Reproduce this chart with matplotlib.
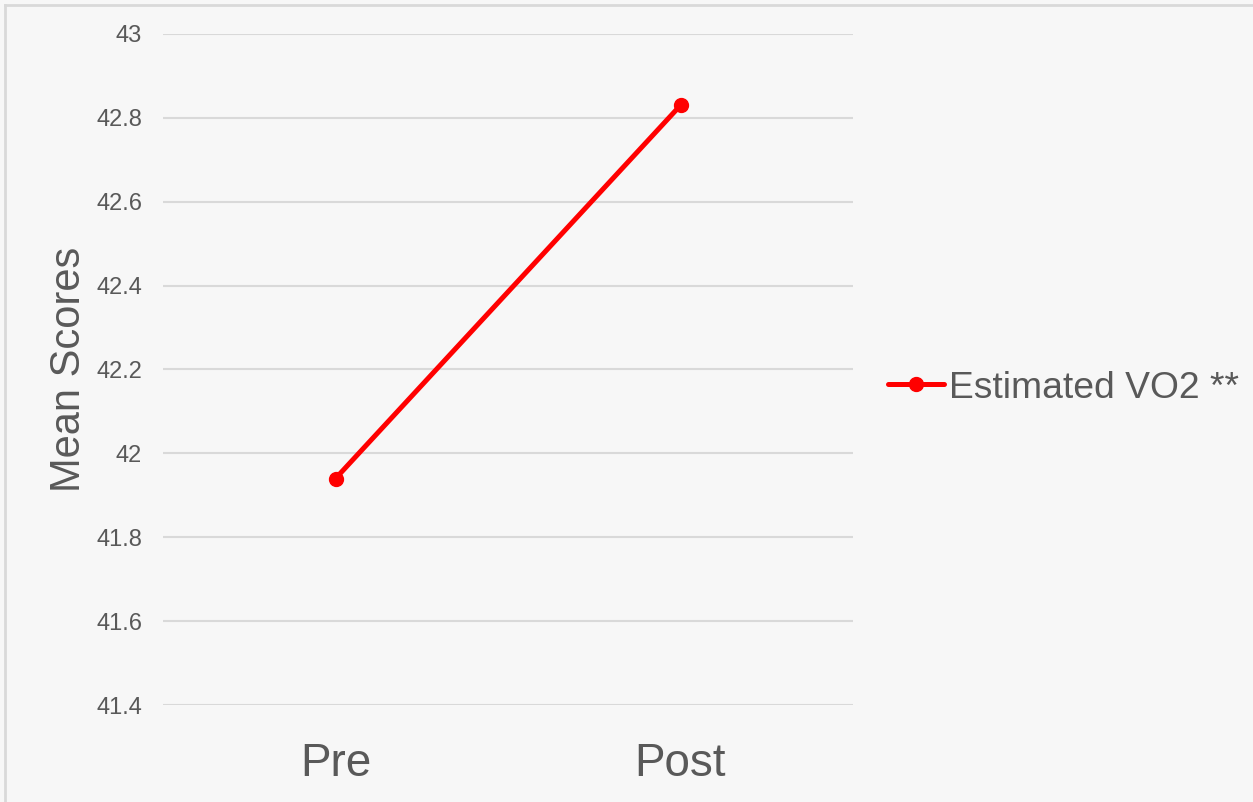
import matplotlib
matplotlib.use("Agg")
import matplotlib.pyplot as plt
from matplotlib.lines import Line2D

plt.rcParams['font.family'] = ['Liberation Sans', 'DejaVu Sans']

# data
categories = ['Pre', 'Post']
vo2_means = [41.94, 42.83]
series_label = 'Estimated VO2 **'
y_ticks = [41.4, 41.6, 41.8, 42.0, 42.2, 42.4, 42.6, 42.8, 43.0]
y_tick_labels = ['41.4', '41.6', '41.8', '42', '42.2', '42.4', '42.6', '42.8', '43']

bg = '#f7f7f7'
txt = '#595959'
grid_col = '#d9d9d9'

fig = plt.figure(figsize=(12.53, 8.02), dpi=100, facecolor=bg)
ax = fig.add_axes([163 / 1253, 1 - 705 / 802, 690 / 1253, 671 / 802])
ax.set_facecolor(bg)

x = list(range(len(categories)))
ax.plot(x, vo2_means, color='#ff0000', lw=3.6, marker='o', ms=10,
        solid_capstyle='round', label=series_label, zorder=3)

ax.set_xlim(-0.5, len(categories) - 0.5)
ax.set_ylim(y_ticks[0], y_ticks[-1])
ax.set_yticks(y_ticks)
ax.set_yticklabels(y_tick_labels)
ax.set_xticks(x)
ax.set_xticklabels(categories)

ax.grid(axis='y', color=grid_col, lw=1.5)
ax.set_axisbelow(True)
for s in ax.spines.values():
    s.set_visible(False)

ax.tick_params(axis='y', length=0, pad=15, labelsize=17, labelcolor=txt)
ax.tick_params(axis='x', length=0, pad=27, labelsize=33, labelcolor=txt)
ax.set_ylabel('Mean Scores', fontsize=30, color=txt, labelpad=5)

fig.legend(loc='center left', bbox_to_anchor=(888 / 1253, 1 - 388 / 802),
           frameon=False, fontsize=26.8, labelcolor=txt,
           handlelength=1.5, handletextpad=0.15, borderaxespad=0, borderpad=0)

# partial chart frame, top and left edges only
fig.add_artist(Line2D([5 / 1253, 5 / 1253], [0, 1 - 5 / 802], transform=fig.transFigure,
                      color=grid_col, lw=2))
fig.add_artist(Line2D([5 / 1253, 1], [1 - 5 / 802, 1 - 5 / 802], transform=fig.transFigure,
                      color=grid_col, lw=2))

fig.savefig('out.png', dpi=100, facecolor=bg)
